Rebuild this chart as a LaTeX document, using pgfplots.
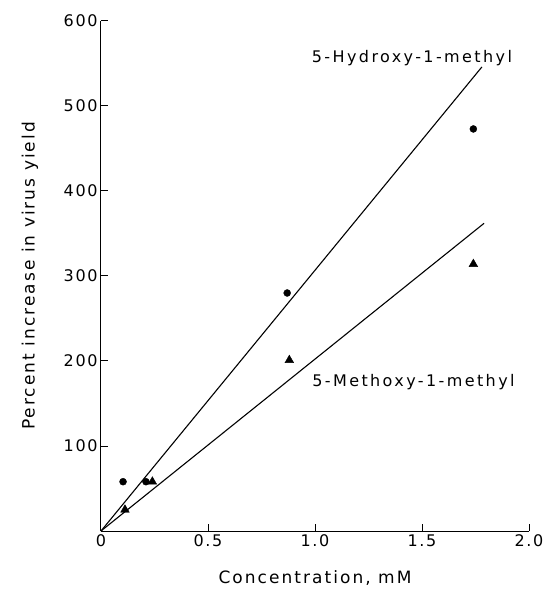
\documentclass[border=0pt]{standalone}
\usepackage{fontspec}
\setmainfont{DejaVu Sans}
\usepackage{pgfplots}
\pgfplotsset{compat=1.18}
\newcommand{\tfont}[2]{\fontsize{#1}{#1}\selectfont\addfontfeatures{LetterSpace=#2}}
\begin{document}
\begin{tikzpicture}
\useasboundingbox (-101pt,-60pt) rectangle (445pt,531pt);
\begin{axis}[
 at={(0,0)}, anchor=south west,
 scale only axis, width=428pt, height=510pt,
 xmin=0, xmax=2, ymin=0, ymax=600,
 axis lines=left, axis line style={-, line width=1pt},
 xtick={0,0.5,1,1.5,2}, xticklabels={0,0.5,1.0,1.5,2.0},
 ytick={100,200,...,600},
 tick align=inside, major tick length=7pt,
 tick style={line width=1pt, black},
 /pgf/number format/assume math mode=true,
 ticklabel style={font=\tfont{16}{10}},
 xlabel={Concentration, mM}, ylabel={Percent increase in virus yield},
 label style={font=\tfont{17}{12}},
 xlabel style={at={(axis description cs:0.5,0)}, anchor=center, yshift=-47pt},
 ylabel style={at={(axis description cs:-0.166,0.5)}, anchor=center},
 clip=false,
]
\addplot[black, line width=1.1pt] coordinates {(0,0) (1.78,546)};
\addplot[black, line width=1.1pt] coordinates {(0,0) (1.79,362)};
\addplot[only marks, mark=*, mark size=3.5pt, black] coordinates {(0.103,58) (0.21,58) (0.87,280) (1.74,473)};
\addplot[only marks, mark=triangle*, mark size=5pt, black] coordinates {(0.112,25) (0.24,58) (0.88,201) (1.74,314)};
\node[font=\tfont{16}{15}] at (axis cs:1.453,556) {5-Hydroxy-1-methyl};
\node[font=\tfont{16}{15}] at (axis cs:1.46,175) {5-Methoxy-1-methyl};
\end{axis}
\end{tikzpicture}
\end{document}
